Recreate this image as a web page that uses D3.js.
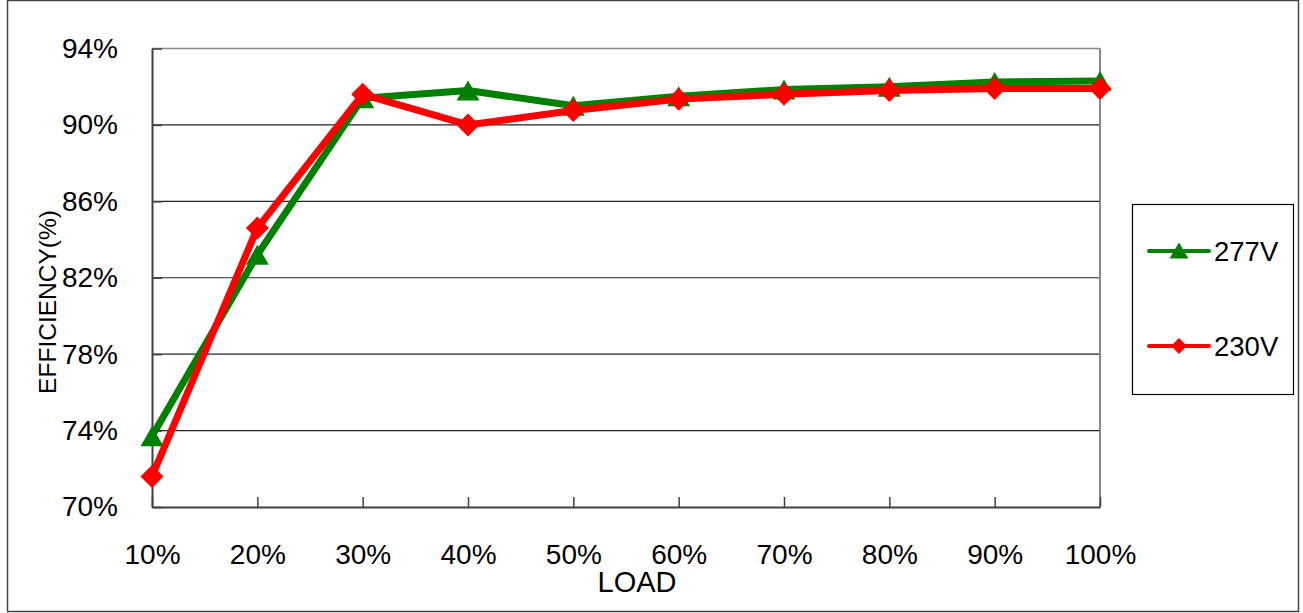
<!DOCTYPE html>
<html>
<head>
<meta charset="utf-8">
<script src="https://cdn.jsdelivr.net/npm/d3@7/dist/d3.min.js"></script>
<style>
  body { margin: 0; background: #fff; }
  svg { display: block; font-family: "Liberation Sans", Arial, sans-serif; }
</style>
</head>
<body>
<svg id="chart" width="1303" height="613"></svg>
<script>
// load points and efficiency readings (%)
var loads = ["10%", "20%", "30%", "40%", "50%", "60%", "70%", "80%", "90%", "100%"];
var eff277 = [73.7, 83.2, 91.4, 91.8, 91.0, 91.5, 91.85, 92.0, 92.25, 92.3];
var eff230 = [71.6, 84.6, 91.6, 90.0, 90.75, 91.35, 91.6, 91.8, 91.9, 91.9];
var yTicks = [70, 74, 78, 82, 86, 90, 94];
var seriesNames = ["277V", "230V"];

var svg = d3.select("#chart");
var plotL = 152, plotR = 1100, plotT = 48.5, plotB = 507;

var x = d3.scalePoint().domain(loads).range([plotL, plotR]);
var y = d3.scaleLinear().domain([70, 94]).range([plotB, plotT]);

// outer frame
svg.append("rect")
    .attr("x", 7.5).attr("y", 0.5)
    .attr("width", 1291).attr("height", 611)
    .attr("fill", "none").attr("stroke", "#444").attr("stroke-width", 1.5);

// gridlines
svg.append("g").selectAll("line")
    .data(yTicks.slice(1, -1))
    .enter().append("line")
    .attr("x1", plotL).attr("x2", plotR)
    .attr("y1", function (d) { return y(d); })
    .attr("y2", function (d) { return y(d); })
    .attr("stroke", "#222").attr("stroke-width", 1.2);

// plot border: top & right grey
svg.append("line").attr("x1", plotL).attr("x2", plotR).attr("y1", plotT).attr("y2", plotT)
    .attr("stroke", "#888").attr("stroke-width", 1.5);
svg.append("line").attr("x1", plotR).attr("x2", plotR).attr("y1", plotT).attr("y2", plotB)
    .attr("stroke", "#888").attr("stroke-width", 2);

// y axis
var yAxis = svg.append("g")
    .attr("transform", "translate(" + plotL + ",0)")
    .call(d3.axisLeft(y).tickValues(yTicks).tickSize(-10).tickSizeOuter(0).tickPadding(34)
        .tickFormat(function (d) { return d + "%"; }));
yAxis.select(".domain").attr("stroke", "#404040").attr("stroke-width", 2);
yAxis.selectAll(".tick line").attr("stroke", "#404040").attr("stroke-width", 1.5);
yAxis.selectAll("text").attr("font-size", 28).attr("fill", "#000")
    .attr("font-family", "Liberation Sans, Arial, sans-serif");

// x axis
var xAxis = svg.append("g")
    .attr("transform", "translate(0," + plotB + ")")
    .call(d3.axisBottom(x).tickSize(-10).tickSizeOuter(0).tickPadding(37));
xAxis.select(".domain").attr("stroke", "#404040").attr("stroke-width", 2);
xAxis.selectAll(".tick line").attr("stroke", "#404040").attr("stroke-width", 1.5);
xAxis.selectAll("text").attr("font-size", 28).attr("fill", "#000")
    .attr("font-family", "Liberation Sans, Arial, sans-serif");

// axis titles
svg.append("text")
    .attr("x", 637).attr("y", 592)
    .attr("text-anchor", "middle").attr("font-size", 29)
    .text("LOAD");
svg.append("text")
    .attr("transform", "translate(56,302) rotate(-90)")
    .attr("text-anchor", "middle").attr("font-size", 24.5)
    .text("EFFICIENCY(%)");

var line = d3.line()
    .x(function (d, i) { return x(loads[i]); })
    .y(function (d) { return y(d); });

function tri(cx, cy, w, h) {
    return "M" + cx + "," + (cy - h / 2) + "L" + (cx + w / 2) + "," + (cy + h / 2) +
        "L" + (cx - w / 2) + "," + (cy + h / 2) + "Z";
}
function diamond(cx, cy, r) {
    return "M" + cx + "," + (cy - r) + "L" + (cx + r) + "," + cy +
        "L" + cx + "," + (cy + r) + "L" + (cx - r) + "," + cy + "Z";
}

// 277V series
svg.append("path").datum(eff277)
    .attr("d", line).attr("fill", "none")
    .attr("stroke", "#008000").attr("stroke-width", 7).attr("stroke-linejoin", "round");
svg.append("g").selectAll("path")
    .data(eff277).enter().append("path")
    .attr("d", function (d, i) { return tri(x(loads[i]), y(d), 23, 20); })
    .attr("fill", "#008000");

// 230V series
svg.append("path").datum(eff230)
    .attr("d", line).attr("fill", "none")
    .attr("stroke", "#ff0000").attr("stroke-width", 7).attr("stroke-linejoin", "round");
svg.append("g").selectAll("path")
    .data(eff230).enter().append("path")
    .attr("d", function (d, i) { return diamond(x(loads[i]), y(d), 11.5); })
    .attr("fill", "#ff0000");

// legend
var legend = svg.append("g");
legend.append("rect")
    .attr("x", 1132.5).attr("y", 204.5).attr("width", 161).attr("height", 190)
    .attr("fill", "#fff").attr("stroke", "#000").attr("stroke-width", 1.2);
var legY = [251, 346];
var colors = ["#008000", "#ff0000"];
seriesNames.forEach(function (name, i) {
    legend.append("line")
        .attr("x1", 1149).attr("x2", 1209)
        .attr("y1", legY[i]).attr("y2", legY[i])
        .attr("stroke", colors[i]).attr("stroke-width", 4).attr("stroke-linecap", "round");
    legend.append("path")
        .attr("d", i === 0 ? tri(1179, legY[i] - 0.5, 19, 16) : diamond(1179, legY[i], 8))
        .attr("fill", colors[i]);
    legend.append("text")
        .attr("x", 1214).attr("y", legY[i] + 10)
        .attr("font-size", 27.5)
        .text(name);
});
</script>
</body>
</html>
